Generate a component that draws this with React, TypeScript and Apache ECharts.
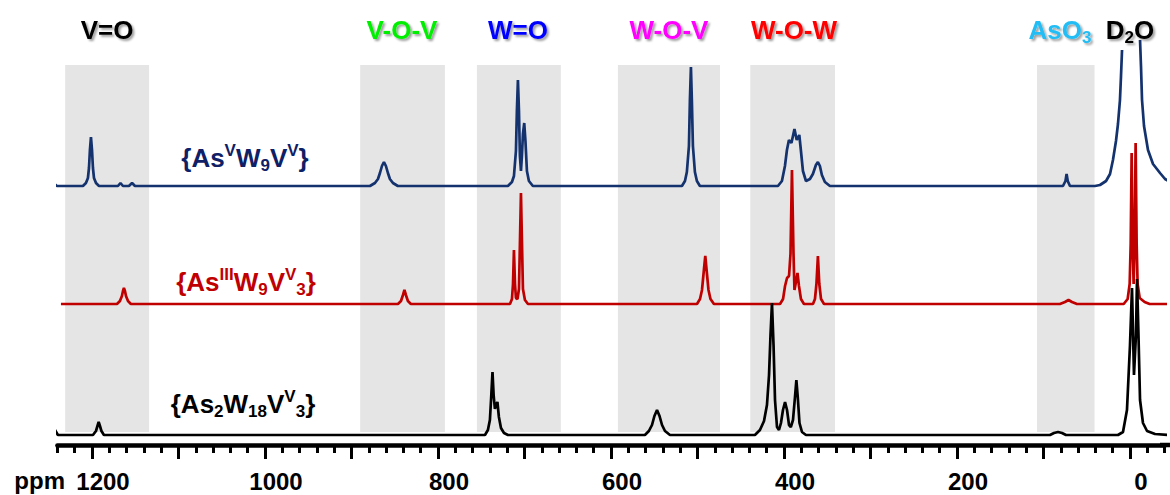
import React, { useEffect, useRef } from "react";
import * as echarts from "echarts";

// ---------- data (ppm, intensity above each trace's own baseline) ----------
const bandLabels = ["V=O", "V-O-V", "W=O", "W-O-V", "W-O-W", "AsO3"];
// shaded chemical-shift regions [from ppm, to ppm]
const bandRanges: [number, number][] = [
  [1231, 1134],
  [890, 792],
  [755, 658],
  [592, 474],
  [439, 341],
  [107.5, 41],
];
const majorTicks = [0, 100, 200, 300, 400, 500, 600, 700, 800, 900, 1000, 1100, 1200];
const tickLabels = [0, 200, 400, 600, 800, 1000, 1200];

const seriesNames = ["{AsVW9VV}", "{AsIIIW9VV3}", "{As2W18VV3}"];

const asVW9V: [number, number | null][] = [
  [1249.7, 7], [1245.1, 3], [1240.5, 0],
  [1210.5, 0], [1207.0, 3], [1204.7, 8], [1203.5, 18], [1202.4, 36], [1201.2, 49], [1200.0, 36], [1198.9, 18], [1197.7, 8], [1195.4, 3], [1191.9, 0],
  [1170.0, 0], [1167.1, 3], [1164.2, 0], [1157.3, 0], [1153.7, 3], [1150.3, 0],
  [878.7, 0], [872.9, 3], [869.4, 7], [867.1, 13], [864.8, 20], [862.5, 24], [860.2, 20], [857.9, 13], [855.6, 7], [852.1, 3], [846.4, 0],
  [719.2, 0], [714.5, 4], [712.2, 10], [709.9, 35], [708.8, 75], [707.6, 106], [706.4, 75], [705.3, 30], [704.1, 15], [703.0, 30], [701.8, 52], [700.3, 63], [698.9, 45], [697.2, 15], [694.9, 5], [690.3, 0],
  [518.0, 0], [514.5, 5], [512.3, 14], [509.9, 40], [508.8, 85], [507.6, 119], [506.5, 85], [505.3, 40], [503.0, 14], [500.7, 5], [497.2, 0],
  [407.0, 0], [402.4, 5], [398.9, 20], [396.6, 36], [394.3, 46], [391.4, 43], [387.9, 57], [385.3, 46], [382.3, 51], [380.4, 35], [378.1, 15], [374.6, 5], [370.0, 7], [366.6, 12], [363.1, 21], [360.8, 24], [358.5, 20], [356.2, 11], [352.7, 4], [346.9, 0],
  [77.5, 0], [74.6, 5], [73.3, 12], [72.0, 5], [69.4, 0],
  [40.5, 0], [34.7, 1], [27.7, 5], [23.1, 12], [19.7, 26], [16.2, 45], [13.9, 62], [11.6, 86], [10.4, 110], [9.2, 136],
  [0, null],
  [-11.6, 146], [-12.7, 120], [-13.9, 86], [-16.2, 60], [-20.8, 36], [-26.6, 22], [-34.7, 13], [-40.5, 7], [-46.2, 4],
];

const asIIIW9V3: [number, number][] = [
  [1235.9, 0],
  [1171.1, 0], [1167.7, 3], [1165.4, 8], [1164.2, 13], [1163.1, 16], [1161.9, 13], [1160.7, 8], [1158.4, 3], [1155.0, 0],
  [846.3, 0], [842.8, 3], [840.5, 9], [838.8, 14], [837.1, 9], [834.8, 3], [831.3, 0],
  [716.8, 0], [714.5, 5], [713.3, 20], [712.2, 54], [711.0, 20], [709.9, 6], [708.1, 5], [706.4, 15], [705.3, 60], [704.1, 111], [702.9, 60], [701.8, 15], [699.5, 4], [696.0, 0],
  [500.6, 0], [497.1, 5], [494.8, 14], [492.5, 35], [491.0, 48], [489.6, 35], [487.3, 14], [485.0, 5], [481.0, 0],
  [404.6, 0], [401.1, 5], [398.8, 18], [396.5, 26], [394.2, 28], [392.5, 50], [390.8, 134], [389.0, 50], [387.9, 14], [386.2, 22], [384.4, 31], [382.7, 18], [380.4, 5], [376.9, 0],
  [366.5, 0], [364.2, 5], [362.5, 20], [360.8, 48], [359.2, 20], [357.2, 5], [353.7, 0],
  [81.0, 0], [75.2, 2], [71.1, 4], [67.1, 2], [61.3, 0],
  [7.3, 0], [2.7, 5], [0.4, 20], [-0.8, 60], [-1.9, 151], [-3.1, 60], [-4.2, 20], [-5.4, 60], [-6.5, 161], [-7.7, 60], [-8.8, 20], [-11.2, 6], [-16.9, 2], [-22.7, 0], [-46.2, 0],
];

const as2W18V3: [number, number][] = [
  [1245.5, 10], [1242.8, 5], [1239.4, 0],
  [1198.9, 0], [1195.4, 4], [1193.7, 9], [1192.3, 13], [1190.8, 9], [1189.1, 4], [1186.2, 0],
  [745.7, 0], [742.3, 5], [740.0, 15], [738.5, 38], [737.0, 63], [735.7, 40], [734.2, 26], [733.0, 30], [731.3, 33], [729.6, 18], [727.2, 7], [723.7, 2], [719.1, 0],
  [560.8, 0], [556.2, 4], [552.6, 10], [549.8, 19], [546.8, 25], [543.9, 19], [541.0, 10], [537.6, 4], [531.8, 0],
  [433.6, 0], [427.8, 5], [423.1, 14], [419.7, 30], [417.3, 60], [415.6, 100], [413.9, 132], [412.1, 90], [410.4, 35], [408.1, 8], [405.8, 5], [403.5, 12], [401.2, 25], [398.8, 33], [396.5, 25], [394.2, 10], [392.1, 8], [389.6, 15], [387.3, 38], [385.7, 55], [384.1, 38], [382.1, 12], [379.2, 3], [374.6, 0],
  [92.5, 0], [87.9, 2], [83.2, 3], [78.6, 2], [74.0, 0],
  [13.9, 0], [8.1, 3], [3.5, 25], [0, 90], [-2.3, 147], [-4.6, 60], [-6.9, 100], [-8.1, 156], [-9.8, 100], [-11.6, 35], [-15.0, 12], [-19.7, 4], [-28.9, 1], [-46.2, 0],
];

// ---------- styling / layout ----------
const FONT = '"Liberation Sans", Arial, Helvetica, sans-serif';
const BLUE = "#14326e";
const RED = "#c00000";
const BLACK = "#000000";

function richText(
  x: number,
  y: number,
  text: string,
  color: string,
  size: number,
  small: number,
  shadow = false
) {
  const shadowStyle = shadow
    ? {
        textShadowColor: "rgba(0,0,0,0.38)",
        textShadowBlur: 2,
        textShadowOffsetX: 2,
        textShadowOffsetY: 2,
      }
    : {};
  return {
    type: "text",
    x,
    y,
    z: 50,
    silent: true,
    style: {
      text,
      fill: color,
      font: `bold ${size}px ${FONT}`,
      align: "center",
      verticalAlign: "middle",
      ...shadowStyle,
      rich: {
        m: { font: `bold ${size}px ${FONT}`, fill: color, lineHeight: size + 6, ...shadowStyle },
        sup: { font: `bold ${small}px ${FONT}`, fill: color, lineHeight: small, verticalAlign: "top", ...shadowStyle },
        sub: { font: `bold ${small}px ${FONT}`, fill: color, lineHeight: small, verticalAlign: "bottom", ...shadowStyle },
      },
    },
  };
}

const topLabelLayout = [
  { x: 107, color: "#000000", rich: "{m|V=O}" },
  { x: 402, color: "#00ee00", rich: "{m|V-O-V}" },
  { x: 518, color: "#0000ff", rich: "{m|W=O}" },
  { x: 669, color: "#ff00ff", rich: "{m|W-O-V}" },
  { x: 794, color: "#ff0000", rich: "{m|W-O-W}" },
  { x: 1060, color: "#22bdf5", rich: "{m|AsO}{sub|3}" },
];

export default function App() {
  const ref = useRef<HTMLDivElement>(null);

  useEffect(() => {
    const chart = echarts.init(ref.current!, null, { renderer: "svg" });

    const graphics: any[] = [];
    topLabelLayout.forEach((l, i) => {
      void bandLabels[i];
      graphics.push(richText(l.x, 30, l.rich, l.color, 26, 17, true));
    });
    graphics.push(richText(1130, 30, "{m|D}{sub|2}{m|O}", "#000000", 26, 17, true));

    graphics.push(richText(245, 158, "{m|{As}{sup|V}{m|W}{sub|9}{m|V}{sup|V}}", "#0f2066", 26, 17));
    graphics.push(richText(246, 282, "{m|{As}{sup|III}{m|W}{sub|9}{m|V}{sup|V}{sub|3}}", RED, 26, 17));
    graphics.push(richText(243, 404, "{m|{As}{sub|2}{m|W}{sub|18}{m|V}{sup|V}{sub|3}}", BLACK, 26, 17));

    graphics.push({
      type: "text",
      x: 65,
      y: 480,
      silent: true,
      style: { text: "ppm", font: `bold 24px ${FONT}`, fill: "#000", align: "right", verticalAlign: "middle" },
    });
    graphics.push({
      type: "line",
      silent: true,
      shape: { x1: 1160, y1: 445, x2: 1170, y2: 445 },
      style: { stroke: "#000", lineWidth: 4.5 },
    });

    const hiddenY = (min: number) => ({
      type: "value",
      min,
      max: min + 395,
      show: false,
      splitLine: { show: false },
    });

    const lineSeries = (name: string, data: any[], color: string, yIdx: number) => ({
      name,
      type: "line",
      xAxisIndex: 0,
      yAxisIndex: yIdx,
      data,
      symbol: "none",
      showSymbol: false,
      clip: false,
      connectNulls: false,
      z: 3,
      lineStyle: { color, width: 2.7 },
      itemStyle: { color },
      silent: true,
    });

    const option: any = {
      animation: false,
      backgroundColor: "#ffffff",
      grid: { left: 57.4, width: 1107.2, top: 45, height: 395, containLabel: false },
      xAxis: [
        {
          type: "value",
          inverse: true,
          min: -40,
          max: 1240,
          interval: 20,
          position: "bottom",
          offset: 5,
          axisLine: { show: true, onZero: false, lineStyle: { color: "#000", width: 4.5 } },
          axisTick: { show: true, length: 8, lineStyle: { color: "#000", width: 3 } },
          axisLabel: { show: false },
          splitLine: { show: false },
        },
        {
          type: "value",
          inverse: true,
          min: -40,
          max: 1240,
          position: "bottom",
          offset: 5,
          axisLine: { show: false, onZero: false },
          axisTick: { show: true, customValues: majorTicks, length: 14, lineStyle: { color: "#000", width: 3 } },
          axisLabel: {
            show: true,
            customValues: tickLabels,
            formatter: (v: number) => String(v),
            color: "#000",
            fontSize: 24,
            fontWeight: "bold",
            fontFamily: FONT,
            margin: 24,
            padding: [0, 0, 0, 22],
          },
          splitLine: { show: false },
        },
      ],
      yAxis: [hiddenY(-254), hiddenY(-136), hiddenY(-5)],
      series: [
        {
          name: "bands",
          type: "custom",
          xAxisIndex: 0,
          yAxisIndex: 2,
          z: 1,
          silent: true,
          encode: { x: [0, 1] },
          data: bandRanges,
          renderItem: (params: any, api: any) => {
            const a = api.value(0);
            const b = api.value(1);
            const p0 = api.coord([a, 370]);
            const p1 = api.coord([b, 3]);
            return {
              type: "rect",
              shape: {
                x: Math.min(p0[0], p1[0]),
                y: Math.min(p0[1], p1[1]),
                width: Math.abs(p1[0] - p0[0]),
                height: Math.abs(p1[1] - p0[1]),
              },
              style: { fill: "#e5e5e5" },
            };
          },
        },
        lineSeries(seriesNames[0], asVW9V, BLUE, 0),
        lineSeries(seriesNames[1], asIIIW9V3, RED, 1),
        lineSeries(seriesNames[2], as2W18V3, BLACK, 2),
      ],
      graphic: graphics,
    };

    chart.setOption(option);
    return () => chart.dispose();
  }, []);

  return (
    <div
      ref={ref}
      style={{ position: "absolute", left: 0, top: 0, width: 1170, height: 495 }}
    />
  );
}
